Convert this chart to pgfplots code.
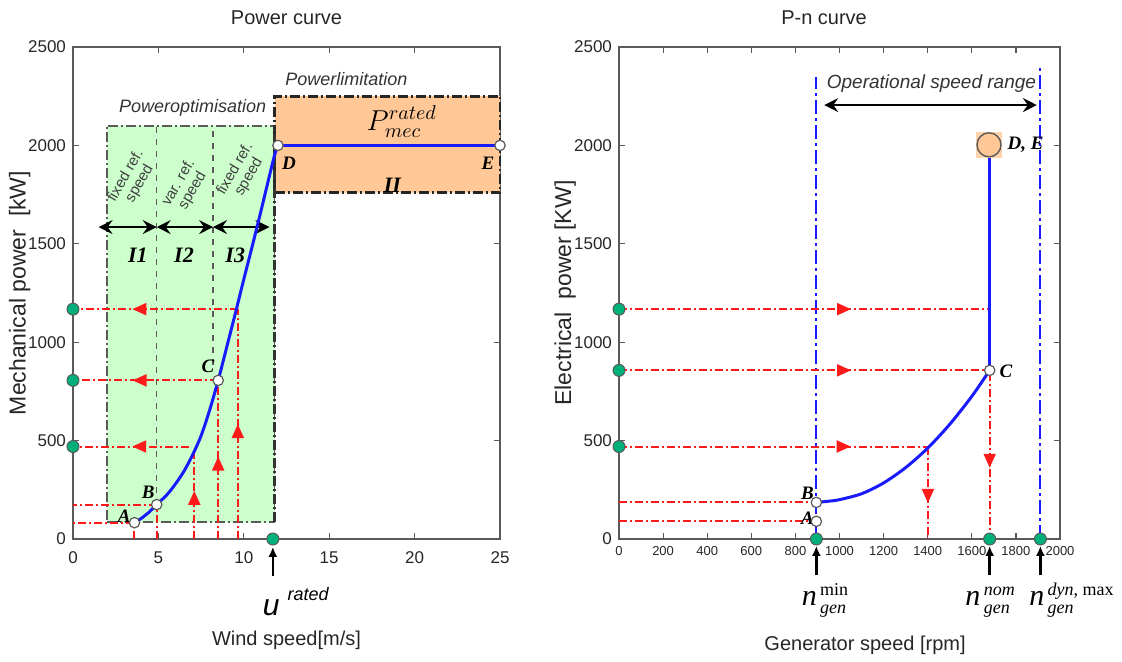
\documentclass[border=0pt]{standalone}
\usepackage{fontspec}
\setmainfont{Liberation Sans}
\newfontfamily\tms{Liberation Serif}
\usepackage{pgfplots}
\pgfplotsset{compat=1.18}
\usetikzlibrary{arrows.meta,decorations.markings}

\definecolor{lgreen}{HTML}{CCFFCC}
\definecolor{lorange}{HTML}{FFC896}
\definecolor{dotgreen}{HTML}{00B07A}
\definecolor{cblue}{HTML}{1A1AFF}
\definecolor{cred}{HTML}{FF1A1A}
\definecolor{axgray}{HTML}{5A5A5A}

\tikzset{
  redline/.style={cred, line width=1pt, dash pattern=on 4pt off 1.5pt on 1pt off 1.5pt},
  redarrow/.style={postaction={decorate, decoration={markings,
      mark=at position #1 with {\arrow[cred]{Triangle[length=7pt,width=6pt]}}}}},
  dashdot/.style={dash pattern=on 5pt off 1.5pt on 1pt off 1.5pt},
  bluedd/.style={cblue, line width=1.1pt, dash pattern=on 7pt off 2pt on 1.5pt off 2pt},
  blk/.style={black, line width=0.8pt, {Stealth[length=7pt,width=7pt,inset=2.5pt]}-{Stealth[length=7pt,width=7pt,inset=2.5pt]}},
  upar/.style={black, line width=1.3pt, -{Latex[length=5pt,width=4.5pt]}},
  lbl/.style={font=\tms\bfseries\itshape\fontsize{9.5}{10}\selectfont},
}
\newcommand\nlab[2]{{\tms\fontsize{15}{16}\selectfont\itshape n}\,{\tms\fontsize{9}{10}\selectfont
  \begin{tabular}[c]{@{}l@{}}#1\\[-1pt]\itshape gen\end{tabular}}}

\pgfplotsset{
  panel/.style={
    scale only axis, height=246pt, ymin=0, ymax=2500, ytick={0,500,...,2500},
    clip=false,
    axis line style={axgray, line width=0.9pt},
    tick style={axgray, line width=0.6pt}, major tick length=3pt, tick align=inside,
    ticklabel style={font=\fontsize{8.5}{9}\selectfont, text=black!85},
    /pgf/number format/assume math mode=true,
    /pgf/number format/set thousands separator={},
    scaled ticks=false,
    title style={font=\normalsize, text=black!85},
    xlabel style={font=\normalsize, text=black!85},
    ylabel style={font=\fontsize{11.5}{13}\selectfont, text=black!85},
  },
  wmark/.style={only marks, mark=*, mark size=2.6pt,
    mark options={solid, fill=white, draw=gray!70!black, line width=0.6pt}},
  gmark/.style={only marks, mark=*, mark size=3pt,
    mark options={solid, fill=dotgreen, draw=axgray, line width=0.5pt}},
}

\begin{document}
\begin{tikzpicture}
\useasboundingbox (0,0) rectangle (561pt,330.5pt);

% ---------------- Power curve ----------------
\begin{axis}[panel, at={(36.5pt,61pt)}, anchor=south west,
  width=213.5pt, xmin=0, xmax=25, xtick={0,5,...,25},
  xticklabel style={yshift=-3pt},
  title={Power curve}, title style={at={(0.5,1)}, anchor=center, yshift=8.5pt},
  xlabel={Wind speed[m/s]}, xlabel style={at={(0.5,0)}, anchor=center, yshift=-50.5pt},
  ylabel={Mechanical power\ \ [kW]}, ylabel style={at={(-0.125,0.5)}, anchor=center},
]
% regions
\addplot[fill=lgreen, draw=axgray, line width=0.8pt, dashdot]
  coordinates {(2,85) (11.8,85) (11.8,2100) (2,2100) (2,85)};
\addplot[fill=lorange, draw=black!85, line width=1.3pt, dashdot]
  coordinates {(11.8,1760) (25,1760) (25,2250) (11.8,2250) (11.8,1760)};
\addplot[black!80, line width=1.1pt, dashdot] coordinates {(11.8,85) (11.8,2100)};
% dividers
\addplot[axgray, line width=0.8pt, dashed] coordinates {(4.9,175) (4.9,2100)};
\addplot[axgray, line width=0.8pt, dashed] coordinates {(8.2,885) (8.2,2100)};
% double arrows
\addplot[blk] coordinates {(1.5,1585) (4.9,1585)};
\addplot[blk] coordinates {(4.9,1585) (8.2,1585)};
\addplot[blk] coordinates {(8.2,1585) (11.5,1585)};
% red guide lines
\addplot[redline, redarrow=0.64] coordinates {(9.65,1168) (0,1168)};
\addplot[redline, redarrow=0.59] coordinates {(8.5,806) (0,806)};
\addplot[redline, redarrow=0.49] coordinates {(6.8,470) (0,470)};
\addplot[redline] coordinates {(4.9,175) (0,175)};
\addplot[redline] coordinates {(3.6,83) (0,83)};
\addplot[redline] coordinates {(3.6,0) (3.6,83)};
\addplot[redline] coordinates {(4.9,0) (4.9,175)};
\addplot[redline, redarrow=0.55] coordinates {(7.1,0) (7.1,445)};
\addplot[redline, redarrow=0.52] coordinates {(8.5,0) (8.5,806)};
\addplot[redline, redarrow=0.50] coordinates {(9.65,0) (9.65,1168)};
% power curve
\addplot[cblue, line width=1.5pt, smooth] coordinates {
  (3.6,83) (4.0,105) (4.5,140) (4.9,175) (5.5,225) (6.0,280) (6.5,345)
  (7.0,427) (7.5,525) (8.0,655) (8.5,806) (9.0,975) (9.5,1145) (10.0,1320)
  (10.5,1490) (11.0,1665) (11.5,1845) (11.8,1950) (12.0,2000)};
\addplot[cblue, line width=1.5pt] coordinates {(12,2000) (25,2000)};
\addplot[wmark] coordinates {(3.6,83) (4.9,175) (8.5,806) (12,2000) (25,2000)};
\addplot[gmark] coordinates {(0,1168) (0,806) (0,470) (11.7,0)};
\addplot[upar] coordinates {(11.7,-190) (11.7,-40)};
% texts
\node[lbl] at (axis cs:3.0,115) {A};
\node[lbl] at (axis cs:4.4,237) {B};
\node[lbl] at (axis cs:7.9,877) {C};
\node[lbl] at (axis cs:12.65,1911) {D};
\node[lbl] at (axis cs:24.3,1911) {E};
\node[font=\tms\bfseries\itshape\fontsize{11}{12}\selectfont] at (axis cs:18.7,1798) {II};
\node[font=\tms\bfseries\itshape\fontsize{11}{12}\selectfont] at (axis cs:3.8,1443) {I1};
\node[font=\tms\bfseries\itshape\fontsize{11}{12}\selectfont] at (axis cs:6.5,1443) {I2};
\node[font=\tms\bfseries\itshape\fontsize{11}{12}\selectfont] at (axis cs:9.5,1443) {I3};
\node[rotate=60, align=center, text=black!75, font=\fontsize{7.5}{8}\selectfont] at (axis cs:3.5,1825) {fixed ref.\\speed};
\node[rotate=60, align=center, text=black!75, font=\fontsize{7.5}{8}\selectfont] at (axis cs:6.6,1790) {var. ref.\\speed};
\node[rotate=60, align=center, text=black!75, font=\fontsize{7.5}{8}\selectfont] at (axis cs:9.9,1860) {fixed ref.\\speed};
\node[text=black!80, font=\itshape\fontsize{9}{10}\selectfont] at (axis cs:7.0,2190) {Poweroptimisation};
\node[text=black!80, font=\itshape\fontsize{9}{10}\selectfont] at (axis cs:16.0,2337) {Powerlimitation};
\node[font=\Large] at (axis cs:19.25,2121) {$P_{mec}^{rated}$};
\node[anchor=west, inner sep=0pt] at (axis cs:11.1,-318)
  {\itshape\fontsize{15}{16}\selectfont u\hspace{4pt}\raisebox{0.9ex}{\fontsize{9}{10}\selectfont rated}};
\end{axis}

% ---------------- P-n curve ----------------
\begin{axis}[panel, at={(309.5pt,61pt)}, anchor=south west,
  width=220.5pt, xmin=0, xmax=2000, xtick={0,200,...,2000},
  xticklabel style={font=\fontsize{6.5}{7}\selectfont},
  title={P-n curve}, title style={at={(0.465,1)}, anchor=center, yshift=8.5pt},
  xlabel={Generator speed [rpm]}, xlabel style={at={(0.558,0)}, anchor=center, yshift=-53pt},
  ylabel={Electrical\ \ power [KW]}, ylabel style={at={(-0.122,0.5)}, anchor=center},
]
\addplot[bluedd] coordinates {(895,0) (895,2347)};
\addplot[bluedd] coordinates {(1911,0) (1911,2400)};
\addplot[blk] coordinates {(931,2205) (1895,2205)};
% red guide lines
\addplot[redline, redarrow=0.626] coordinates {(0,1168) (1681,1168)};
\addplot[redline, redarrow=0.626] coordinates {(0,857) (1681,857)};
\addplot[redline, redarrow=0.75] coordinates {(0,470) (1401,470)};
\addplot[redline] coordinates {(0,186) (895,186)};
\addplot[redline] coordinates {(0,90) (895,90)};
\addplot[redline, redarrow=0.61] coordinates {(1401,470) (1401,0)};
\addplot[redline, redarrow=0.69] coordinates {(1681,1168) (1681,0)};
% P-n curve
\addplot[cblue, line width=1.5pt, smooth] coordinates {
  (895,186) (950,192) (1000,200) (1100,230) (1200,285) (1300,363)
  (1400,462) (1500,583) (1600,725) (1681,857)};
\addplot[cblue, line width=1.5pt] coordinates {(1681,857) (1681,2000)};
\addplot[wmark] coordinates {(895,90) (895,186) (1681,857)};
\addplot[only marks, mark=square*, mark size=6.3pt, mark options={fill=lorange!80, draw=lorange!80}]
  coordinates {(1678,2003)};
\addplot[only marks, mark=*, mark size=6pt, mark options={fill=lorange, draw=gray!70!black, line width=0.7pt}]
  coordinates {(1678,2003)};
\addplot[gmark] coordinates {(0,1168) (0,857) (0,470) (895,0) (1681,0) (1911,0)};
\addplot[upar] coordinates {(895,-185) (895,-35)};
\addplot[upar] coordinates {(1681,-185) (1681,-35)};
\addplot[upar] coordinates {(1911,-185) (1911,-35)};
% texts
\node[lbl] at (axis cs:855,234) {B};
\node[lbl] at (axis cs:855,108) {A};
\node[lbl] at (axis cs:1755,852) {C};
\node[lbl, anchor=west] at (axis cs:1730,2003) {D, E};
\node[text=black!80, font=\itshape\fontsize{9.5}{10}\selectfont] at (axis cs:1417,2312) {Operational speed range};
\node at (axis cs:934,-313) {\nlab{min}{}};
\node at (axis cs:1683,-313) {\nlab{\itshape nom}{}};
\node at (axis cs:2052,-313) {\nlab{\itshape dyn\upshape, max}{}};
\end{axis}
\end{tikzpicture}
\end{document}
